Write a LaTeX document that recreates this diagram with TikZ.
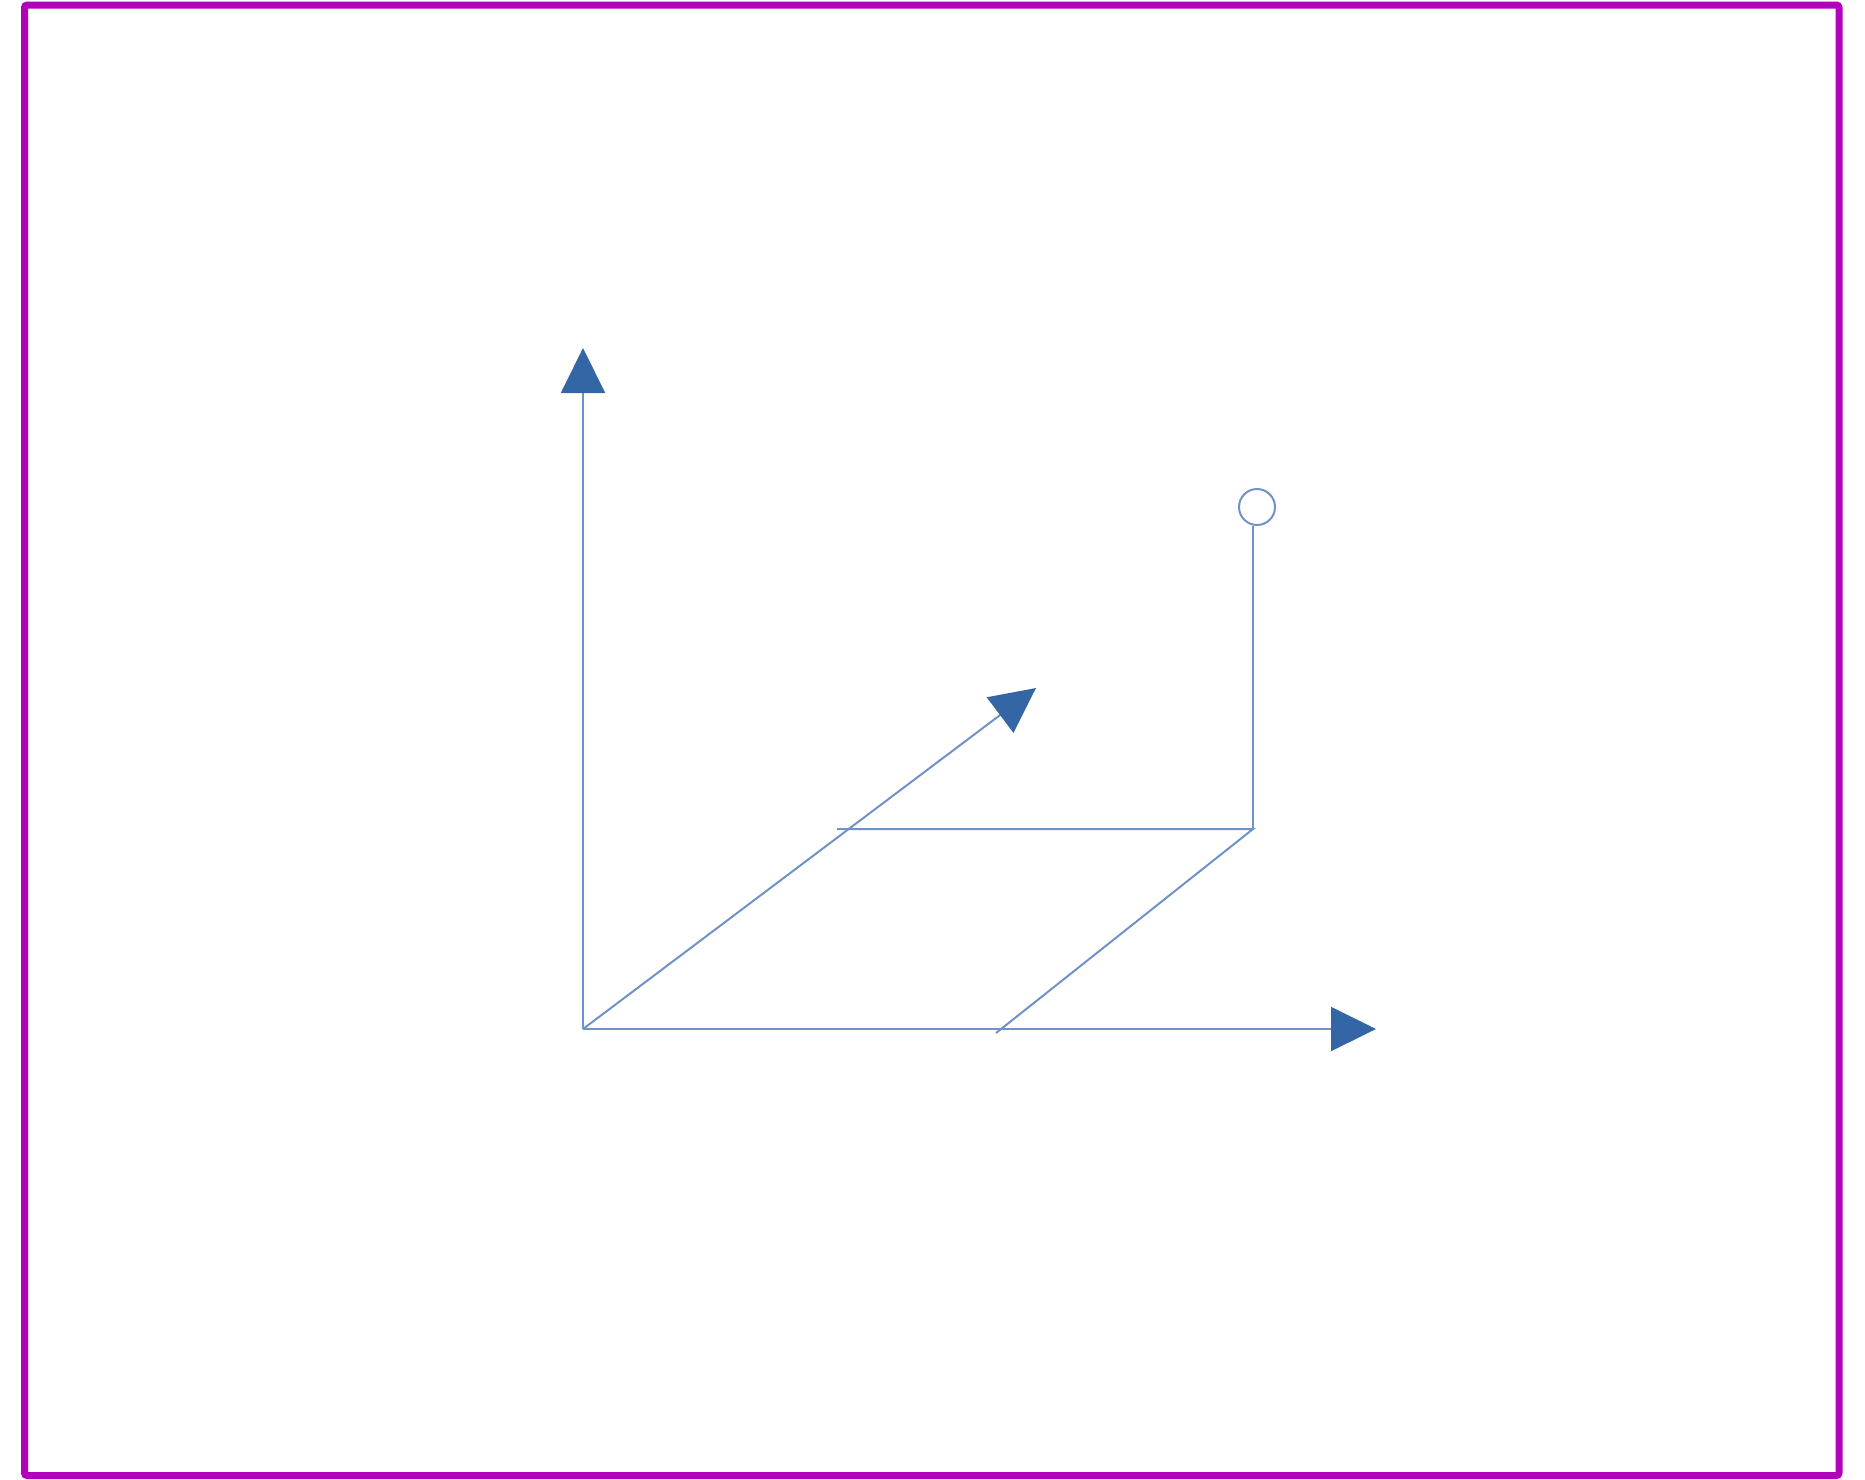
\documentclass[tikz,border=0pt]{standalone}
\usetikzlibrary{arrows.meta}
\definecolor{framepurple}{RGB}{178,0,188}
\definecolor{lineblue}{RGB}{112,146,200}
\definecolor{headblue}{RGB}{52,101,164}
\begin{document}
\begin{tikzpicture}[x=0.75pt,y=-0.75pt,
  axis/.style={draw=lineblue,line width=1.5pt,-{Triangle[length=33.75pt,width=33pt,color=headblue]}},
  plain/.style={draw=lineblue,line width=1.5pt},
  dot/.style={circle,draw=lineblue,line width=1.5pt,minimum size=27pt,inner sep=0pt,fill=white}]
\useasboundingbox (0,0) rectangle (1865,1479);
\draw[framepurple,line width=5.25pt,rounded corners=2pt] (24.5,5) rectangle (1839,1475.5);
\coordinate (O) at (583,1029);
\coordinate (ytip) at (583,348);
\coordinate (xtip) at (1376,1029);
\coordinate (ztip) at (1036,688);
\coordinate (P) at (1253,829);
\coordinate (Pl) at (837,829);
\coordinate (Pb) at (996,1033);
\coordinate (Ptop) at (1253,526);
\node[dot] (C) at (1257,507) {};
\draw[axis] (O) -- (ytip);
\draw[axis] (O) -- (xtip);
\draw[axis] (O) -- (ztip);
\draw[plain] (Pl) -- (P) -- (Pb);
\draw[plain] (P) -- (Ptop);
\end{tikzpicture}
\end{document}
